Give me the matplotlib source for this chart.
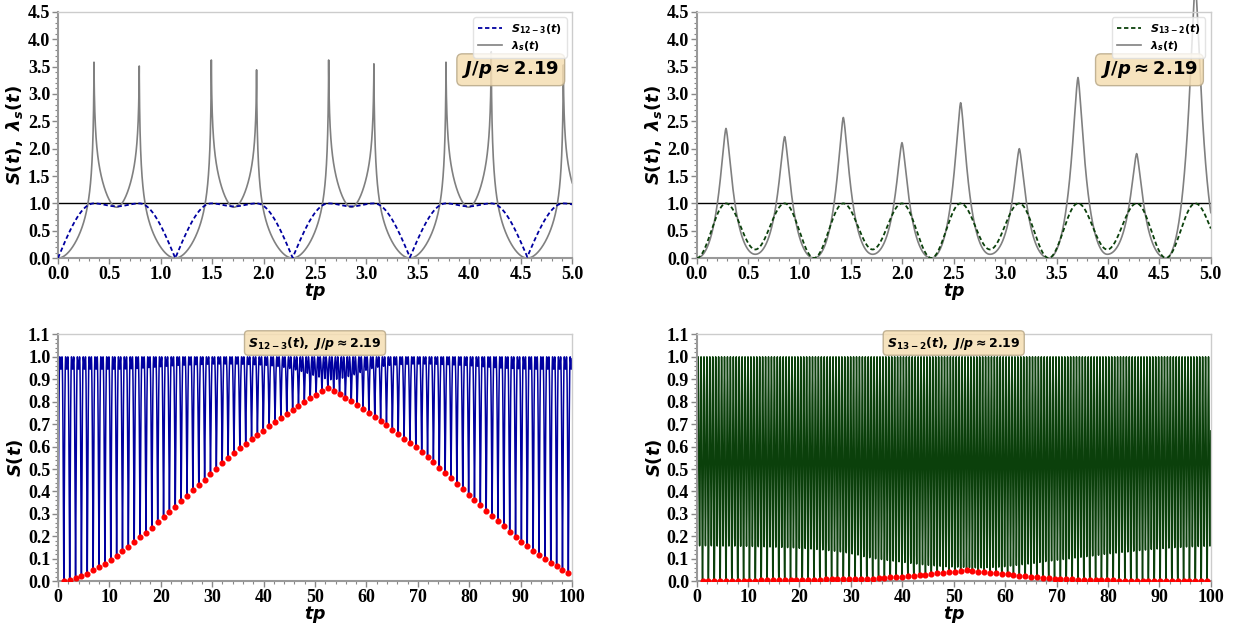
import numpy as np
import matplotlib.pyplot as plt
from matplotlib.ticker import MultipleLocator, FormatStrFormatter

plt.rcParams['font.family'] = 'Liberation Serif'
plt.rcParams['font.weight'] = 'bold'
plt.rcParams['mathtext.fontset'] = 'custom'
plt.rcParams['mathtext.rm'] = 'DejaVu Sans:bold'
plt.rcParams['mathtext.it'] = 'DejaVu Sans:italic:bold'
plt.rcParams['mathtext.bf'] = 'DejaVu Sans:bold'

# oscillation period in units of tp
T = 1.141

# S_{12-3}: deep minima at t = k*T (k = 1..87), the red dots
s123_min = [
    0.000, 0.007, 0.015, 0.023, 0.034, 0.048, 0.063, 0.078, 0.096, 0.114,
    0.133, 0.153, 0.173, 0.195, 0.216, 0.239, 0.262, 0.285, 0.309, 0.333,
    0.357, 0.381, 0.405, 0.429, 0.453, 0.477, 0.501, 0.525, 0.548, 0.571,
    0.593, 0.612, 0.632, 0.651, 0.671, 0.690, 0.710, 0.729, 0.747, 0.765,
    0.782, 0.798, 0.815, 0.831, 0.846, 0.861, 0.849, 0.834, 0.818, 0.801,
    0.785, 0.768, 0.751, 0.733, 0.714, 0.694, 0.675, 0.655, 0.636, 0.616,
    0.597, 0.575, 0.553, 0.530, 0.506, 0.482, 0.458, 0.434, 0.410, 0.386,
    0.362, 0.338, 0.314, 0.290, 0.267, 0.244, 0.220, 0.199, 0.177, 0.157,
    0.137, 0.118, 0.100, 0.082, 0.066, 0.051, 0.036,
]
# S_{12-3}: shallow dips at t = (k+1/2)*T (k = 0..87)
s123_dip = [
    0.945, 0.945, 0.945, 0.945, 0.945, 0.945, 0.945, 0.945, 0.945, 0.945,
    0.945, 0.946, 0.947, 0.948, 0.950, 0.952, 0.954, 0.956, 0.958, 0.960,
    0.962, 0.963, 0.964, 0.965, 0.966, 0.967, 0.968, 0.968, 0.968, 0.968,
    0.968, 0.967, 0.966, 0.965, 0.964, 0.962, 0.960, 0.957, 0.953, 0.948,
    0.942, 0.935, 0.927, 0.918, 0.910, 0.903, 0.898, 0.900, 0.905, 0.912,
    0.920, 0.930, 0.940, 0.948, 0.954, 0.958, 0.962, 0.964, 0.966, 0.967,
    0.968, 0.968, 0.968, 0.968, 0.967, 0.966, 0.965, 0.964, 0.963, 0.962,
    0.960, 0.958, 0.956, 0.954, 0.952, 0.950, 0.949, 0.948, 0.947, 0.946,
    0.945, 0.945, 0.945, 0.945, 0.945, 0.945, 0.945, 0.945,
]

# S_{13-2}: deep minima at t = k*T (k = 1..87), the red dots
s132_min = [
    0.002, 0.002, 0.002, 0.002, 0.002, 0.003, 0.003, 0.003, 0.003, 0.003,
    0.004, 0.004, 0.004, 0.005, 0.005, 0.005, 0.006, 0.006, 0.007, 0.007,
    0.007, 0.008, 0.008, 0.008, 0.009, 0.009, 0.010, 0.010, 0.010, 0.011,
    0.014, 0.016, 0.017, 0.019, 0.020, 0.023, 0.025, 0.026, 0.029, 0.032,
    0.035, 0.038, 0.041, 0.043, 0.046, 0.050, 0.046, 0.043, 0.041, 0.037,
    0.035, 0.032, 0.031, 0.028, 0.025, 0.022, 0.020, 0.019, 0.016, 0.014,
    0.011, 0.010, 0.010, 0.008, 0.007, 0.005, 0.005, 0.004, 0.004, 0.004,
    0.004, 0.003, 0.003, 0.003, 0.003, 0.003, 0.003, 0.003, 0.003, 0.002,
    0.002, 0.002, 0.002, 0.002, 0.002, 0.002, 0.002,
]
# S_{13-2}: secondary minima at t = (k+1/2)*T (k = 0..87)
s132_sec = [
    0.158, 0.158, 0.158, 0.157, 0.157, 0.157, 0.157, 0.156, 0.156, 0.155,
    0.154, 0.154, 0.153, 0.152, 0.151, 0.150, 0.149, 0.147, 0.146, 0.144,
    0.142, 0.140, 0.137, 0.134, 0.131, 0.127, 0.122, 0.117, 0.110, 0.105,
    0.100, 0.097, 0.093, 0.090, 0.087, 0.084, 0.080, 0.077, 0.074, 0.071,
    0.069, 0.067, 0.065, 0.064, 0.063, 0.062, 0.061, 0.060, 0.060, 0.061,
    0.062, 0.063, 0.065, 0.068, 0.071, 0.074, 0.077, 0.080, 0.084, 0.088,
    0.091, 0.094, 0.097, 0.100, 0.104, 0.107, 0.110, 0.113, 0.116, 0.120,
    0.123, 0.126, 0.129, 0.131, 0.134, 0.137, 0.139, 0.142, 0.144, 0.146,
    0.148, 0.150, 0.151, 0.153, 0.154, 0.155, 0.156, 0.157,
]

# lambda_s(t) on 0 <= tp <= 5
lam123_peaks = [3.58, 3.51, 3.62, 3.44, 3.62, 3.55, 3.58, 3.77, 3.53]
lam123_zero = [0.0, 0.0, 0.0, 0.0, 0.0]
lam123_dip = [0.93, 0.93, 0.93, 0.93, 0.93]
lam132_peaks = [2.37, 2.22, 2.57, 2.11, 2.84, 2.00, 3.30, 1.91, 5.00]
lam132_zero = [0.0, 0.0, 0.0, 0.0, 0.0]
lam132_sec = [0.07, 0.07, 0.07, 0.07, 0.07]

J_over_p = 2.19
PEAK_SPLIT = 0.22   # half distance between the two maxima of S_{12-3}


def smooth_wave(t, nt, nv, nk):
    # nk: 0 = maximum (S = 1), 1 = sharp minimum, 2 = rounded minimum
    nt, nv, nk = map(np.asarray, (nt, nv, nk))
    i = np.clip(np.searchsorted(nt, t, side='right') - 1, 0, len(nt) - 2)
    x = (t - nt[i]) / (nt[i + 1] - nt[i])
    a_low = nk[i] != 0
    u = np.where(a_low, x, 1 - x)
    v = np.where(a_low, nv[i], nv[i + 1])
    kind = np.where(a_low, nk[i], nk[i + 1])
    shape = np.where(kind == 1, np.sin(np.pi / 2 * u), (1 - np.cos(np.pi * u)) / 2)
    return v + (1 - v) * shape


def spiky_wave(t, nt, nv, is_peak, gamma, p):
    nt, nv, is_peak = map(np.asarray, (nt, nv, is_peak))
    i = np.clip(np.searchsorted(nt, t, side='right') - 1, 0, len(nt) - 2)
    D = nt[i + 1] - nt[i]
    a_pk = is_peak[i]
    dt = np.where(a_pk, t - nt[i], nt[i + 1] - t)
    H = np.where(a_pk, nv[i], nv[i + 1])
    v = np.where(a_pk, nv[i + 1], nv[i])
    x = dt / D
    w = (1 - x ** 2) ** 2 / (1 + (dt / gamma) ** p)
    return v + (H - v) * w


def sort_nodes(nodes):
    nodes.sort(key=lambda n: n[0])
    return [n[0] for n in nodes], [n[1] for n in nodes], [n[2] for n in nodes]


# node lists for S(t)
mins123 = [0.0] + s123_min + [s123_min[-1]]
nodes = []
for k, m in enumerate(mins123):
    nodes.append((k * T, m, 1))
    if k < len(s123_dip):
        c = (k + 0.5) * T
        nodes += [(c - PEAK_SPLIT, 1.0, 0), (c, s123_dip[k], 2), (c + PEAK_SPLIT, 1.0, 0)]
n123 = sort_nodes(nodes)

mins132 = [0.0] + s132_min + [s132_min[-1]]
nodes = []
for k, m in enumerate(mins132):
    nodes.append((k * T, m, 2))
    if k < len(s132_sec):
        nodes += [((k + 0.25) * T, 1.0, 0), ((k + 0.5) * T, s132_sec[k], 2),
                  ((k + 0.75) * T, 1.0, 0)]
n132 = sort_nodes(nodes)

# node lists for lambda_s(t)
nodes = []
pk = iter(lam123_peaks)
for k in range(5):
    c = (k + 0.5) * T
    nodes.append((k * T, lam123_zero[k], False))
    nodes.append((c - PEAK_SPLIT, next(pk), True))
    nodes.append((c, lam123_dip[k], False))
    if k < 4:
        nodes.append((c + PEAK_SPLIT, next(pk), True))
l123 = sort_nodes(nodes)

nodes = []
pk = iter(lam132_peaks)
for k in range(5):
    nodes.append((k * T, lam132_zero[k], False))
    nodes.append(((k + 0.25) * T, next(pk), True))
    nodes.append(((k + 0.5) * T, lam132_sec[k], False))
    if k < 4:
        nodes.append(((k + 0.75) * T, next(pk), True))
l132 = sort_nodes(nodes)

t5 = np.linspace(0, 5, 20001)
t100 = np.linspace(0, 100, 200001)
t_dots = T * np.arange(1, len(s123_min) + 1)

blue = '#0000a0'
green = '#0b400b'
box = dict(boxstyle='round,pad=0.3', fc='wheat', ec='#b8a888', alpha=0.85)

fig = plt.figure(figsize=(12.33, 6.25), dpi=100)
ax1 = fig.add_axes([0.047, 0.587, 0.417, 0.394])
ax2 = fig.add_axes([0.565, 0.587, 0.417, 0.394])
ax3 = fig.add_axes([0.047, 0.070, 0.417, 0.395])
ax4 = fig.add_axes([0.565, 0.070, 0.417, 0.395])

# top row: short window with lambda_s
for ax, nS, nL, lab, col, g, p in [
        (ax1, n123, l123, r'$S_{12-3}(t)$', blue, 0.019, 0.77),
        (ax2, n132, l132, r'$S_{13-2}(t)$', green, 0.085, 1.5)]:
    lam = spiky_wave(t5, *nL, g, p)
    s = smooth_wave(t5, *nS)
    ax.axhline(1.0, color='black', lw=1.0)
    ls, = ax.plot(t5, s, color=col, lw=1.3, ls=(0, (2.4, 1.5)), label=lab, zorder=3)
    ll, = ax.plot(t5, lam, color='gray', lw=1.2, label=r'$\lambda_s(t)$', clip_on=False)
    ax.set_xlim(0, 5)
    ax.set_ylim(0, 4.5)
    ax.xaxis.set_major_locator(MultipleLocator(0.5))
    ax.xaxis.set_minor_locator(MultipleLocator(0.1))
    ax.yaxis.set_major_locator(MultipleLocator(0.5))
    ax.yaxis.set_minor_locator(MultipleLocator(0.1))
    ax.xaxis.set_major_formatter(FormatStrFormatter('%.1f'))
    ax.yaxis.set_major_formatter(FormatStrFormatter('%.1f'))
    ax.set_ylabel(r'$S(t),\ \lambda_s(t)$', fontsize=13, labelpad=2)
    ax.legend(handles=[ls, ll], loc='upper right', fontsize=8, handlelength=2.2,
              framealpha=0.8, edgecolor='#dddddd', borderpad=0.4, labelspacing=0.3)
    ax.text(0.975, 0.765, r'$J/p\approx %.2f$' % J_over_p, transform=ax.transAxes,
            ha='right', va='center', fontsize=13, bbox=box, zorder=5)

# bottom row: long time evolution with the minima marked
for ax, nS, mins, lab, col in [
        (ax3, n123, s123_min, r'$S_{12-3}(t),\ J/p\approx %.2f$' % J_over_p, blue),
        (ax4, n132, s132_min, r'$S_{13-2}(t),\ J/p\approx %.2f$' % J_over_p, green)]:
    s = smooth_wave(t100, *nS)
    ax.plot(t100, s, color=col, lw=1.1)
    ax.plot(t_dots, mins, 'o', color='red', ms=3.4, zorder=4)
    ax.set_xlim(0, 100)
    ax.set_ylim(0, 1.1)
    ax.xaxis.set_major_locator(MultipleLocator(10))
    ax.xaxis.set_minor_locator(MultipleLocator(2))
    ax.yaxis.set_major_locator(MultipleLocator(0.1))
    ax.yaxis.set_minor_locator(MultipleLocator(0.02))
    ax.xaxis.set_major_formatter(FormatStrFormatter('%d'))
    ax.yaxis.set_major_formatter(FormatStrFormatter('%.1f'))
    ax.set_ylabel(r'$S(t)$', fontsize=13, labelpad=2)
    ax.text(0.5, 0.965, lab, transform=ax.transAxes, ha='center', va='center',
            fontsize=9, bbox=box, zorder=5)

for ax in (ax1, ax2, ax3, ax4):
    ax.set_xlabel(r'$tp$', fontsize=12.5, labelpad=-1.5)
    ax.tick_params(which='both', direction='out', color='#888888', labelsize=13, pad=1.5)
    ax.tick_params(which='major', length=4, width=1)
    ax.tick_params(which='minor', length=2.5, width=0.8)
    for side in ('left', 'bottom'):
        ax.spines[side].set_color('#999999')
        ax.spines[side].set_linewidth(1.5)
    for side in ('top', 'right'):
        ax.spines[side].set_color('#cccccc')
        ax.spines[side].set_linewidth(1.0)

fig.savefig('out.png', dpi=100)
